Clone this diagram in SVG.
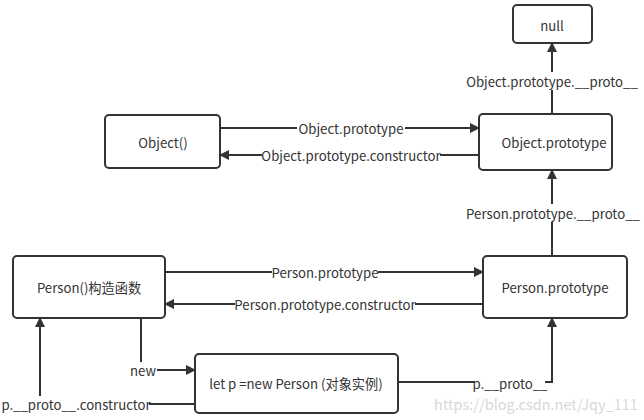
<svg xmlns="http://www.w3.org/2000/svg" width="644" height="420" viewBox="0 0 644 420">
<style>
.box{fill:#fff;stroke:#333;stroke-width:2}
.ln{fill:none;stroke:#333;stroke-width:2}
text{font-family:"Noto Sans CJK SC","Noto Sans",sans-serif;font-size:13.2px;fill:#333;text-anchor:middle;dominant-baseline:central}
.bg{fill:#fff}
</style>
<defs>
<marker id="ar" viewBox="0 0 10 10" refX="9" refY="5" markerWidth="5" markerHeight="5" orient="auto" markerUnits="strokeWidth">
<path d="M0,0 L10,5 L0,10 z" fill="#333"/>
</marker>
</defs>
<rect width="644" height="420" fill="#fff"/>
<g id="connectors">
<path class="ln" d="M552,114 V43" marker-end="url(#ar)"/>
<path class="ln" d="M220,128 H479" marker-end="url(#ar)"/>
<path class="ln" d="M479,155 H220" marker-end="url(#ar)"/>
<path class="ln" d="M552,257 V170" marker-end="url(#ar)"/>
<path class="ln" d="M165,272 H483" marker-end="url(#ar)"/>
<path class="ln" d="M483,304 H165" marker-end="url(#ar)"/>
<path class="ln" d="M141,318 V370 H195" marker-end="url(#ar)"/>
<path class="ln" d="M398,382 H552 V318" marker-end="url(#ar)"/>
<path class="ln" d="M195,404 H40 V318" marker-end="url(#ar)"/>
<g id="labels">
<rect class="bg" x="470" y="72" width="165" height="18"/>
<text x="552" y="81">Object.prototype.__proto__</text>
<rect class="bg" x="297" y="120" width="108" height="16"/>
<text x="351" y="128">Object.prototype</text>
<rect class="bg" x="262" y="147" width="178" height="16"/>
<text x="351" y="155">Object.prototype.constructor</text>
<rect class="bg" x="470" y="204" width="168" height="18"/>
<text x="553" y="213">Person.prototype.__proto__</text>
<rect class="bg" x="272" y="264" width="106" height="16"/>
<text x="325" y="272">Person.prototype</text>
<rect class="bg" x="235" y="296" width="180" height="16"/>
<text x="325" y="304">Person.prototype.constructor</text>
<rect class="bg" x="130" y="362" width="27" height="16"/>
<text x="143" y="370">new</text>
<rect class="bg" x="475" y="374" width="70" height="16"/>
<text x="510" y="383">p.__proto__</text>
<rect class="bg" x="4" y="396" width="145" height="16"/>
<text x="76" y="404">p.__proto__.constructor</text>
</g>
</g>
<g id="null"><rect class="box" x="513" y="5" width="79" height="38" rx="4"/><text x="552" y="25">null</text></g>
<g id="object-fn"><rect class="box" x="105" y="115" width="115" height="53" rx="4"/><text x="163" y="142">Object()</text></g>
<g id="object-proto"><rect class="box" x="479" y="114" width="133" height="56" rx="4"/><text x="554" y="142">Object.prototype</text></g>
<g id="person-fn"><rect class="box" x="13" y="256" width="152" height="62" rx="4"/><text x="89" y="287">Person()构造函数</text></g>
<g id="person-proto"><rect class="box" x="483" y="256" width="144" height="62" rx="4"/><text x="555" y="287">Person.prototype</text></g>
<g id="instance"><rect class="box" x="195" y="354" width="203" height="59" rx="4"/><text x="296" y="383">let p =new Person (对象实例)</text></g>
<text x="536" y="403" style="fill:#d8d8d8;font-size:14.5px">https://blog.csdn.net/Jqy_111</text>
</svg>
